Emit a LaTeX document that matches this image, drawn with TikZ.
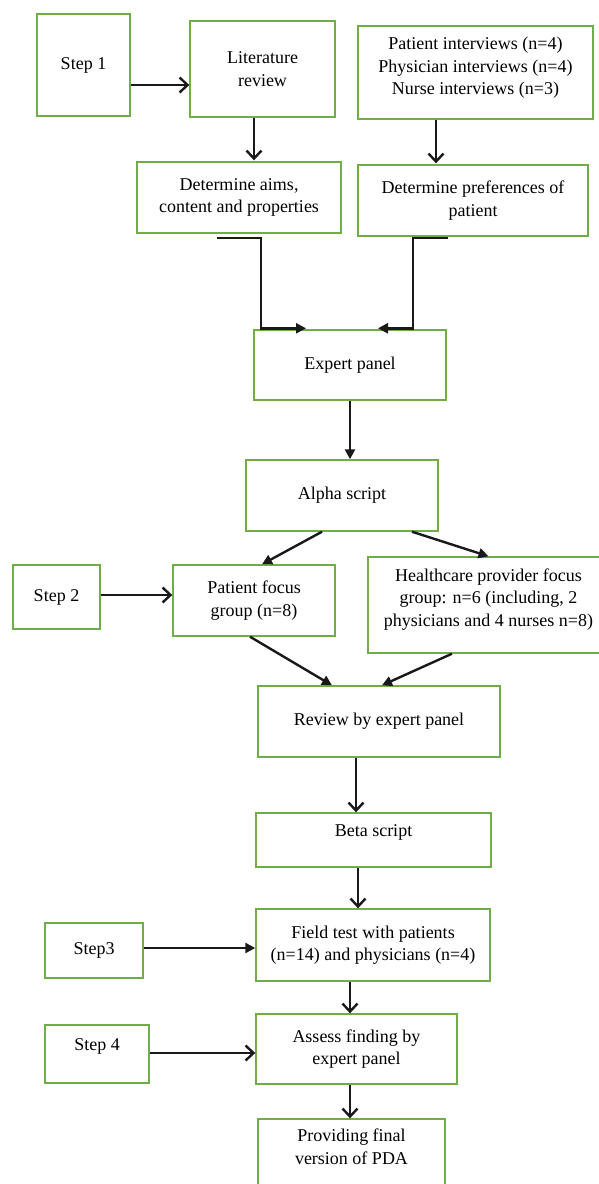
\documentclass[tikz,border=0pt]{standalone}
\usepackage{fontspec}
\setmainfont{Liberation Serif}
\usetikzlibrary{arrows.meta}
\definecolor{boxgreen}{RGB}{112,173,71}
\newcommand\upby[2]{\raisebox{#1}[\height][\depth]{#2}}
\begin{document}
\begin{tikzpicture}[x=1pt,y=-1pt,
  box/.style={draw=boxgreen, line width=1.4pt, align=center, inner sep=0pt,
    font=\fontsize{18}{22.5}\selectfont, text=black},
  openarr/.style={draw=black!90, line width=2.4pt, -{Straight Barb[length=8pt,width=15pt]}},
  fillarr/.style={draw=black!90, line width=2.4pt, -{Triangle[length=10pt,width=10pt]}}]
\useasboundingbox (0,0) rectangle (599,1184);

\node[box, minimum width=93pt, minimum height=102pt] (step1) at (83.5,65) {Step 1};
\node[box, minimum width=145pt, minimum height=96pt] (lit) at (262.5,69) {Literature\\review};
\node[box, minimum width=235pt, minimum height=93pt] (pi) at (475.5,72.5)
  {\upby{5pt}{\begin{tabular}{@{}c@{}}Patient interviews (n=4)\\Physician interviews (n=4)\\Nurse interviews (n=3)\end{tabular}}};
\node[box, minimum width=204pt, minimum height=71pt] (aims) at (239,197.5) {Determine aims,\\content and properties};
\node[box, minimum width=230pt, minimum height=71pt] (pref) at (473,200.5) {Determine preferences of\\patient};
\node[box, minimum width=192pt, minimum height=70pt] (expert) at (350,365) {Expert panel};
\node[box, minimum width=192pt, minimum height=71pt] (alpha) at (342,495.5) {Alpha script};
\node[box, minimum width=87pt, minimum height=64pt] (step2) at (56.5,597) {Step 2};
\node[box, minimum width=162pt, minimum height=71pt] (pf) at (254,600.5) {Patient focus\\group (n=8)};
\node[box, minimum width=241pt, minimum height=96pt] (hc) at (488.5,605)
  {\upby{6pt}{\begin{tabular}{@{}c@{}}Healthcare provider focus\\group: n=6 (including, 2\\physicians and 4 nurses n=8)\end{tabular}}};
\node[box, minimum width=242pt, minimum height=71pt] (review) at (379,721.5) {Review by expert panel};
\node[box, minimum width=235pt, minimum height=54pt] (beta) at (373.5,840) {\upby{8pt}{Beta script}};
\node[box, minimum width=234pt, minimum height=72pt] (field) at (373,945) {Field test with patients\\(n=14) and physicians (n=4)};
\node[box, minimum width=98pt, minimum height=55pt] (step3) at (94,950.5) {Step3};
\node[box, minimum width=201pt, minimum height=70pt] (assess) at (356.5,1049) {Assess finding by\\expert panel};
\node[box, minimum width=104pt, minimum height=58pt] (step4) at (97,1054) {\upby{8pt}{Step 4}};
\node[box, minimum width=187pt, minimum height=75pt] (pda) at (351.5,1156.5)
  {\upby{8pt}{\begin{tabular}{@{}c@{}}Providing final\\version of PDA\end{tabular}}};

\draw[openarr] ([yshift=-20pt]step1.east) -- ([yshift=-16pt]lit.west);
\draw[openarr] ([xshift=-8.5pt]lit.south) -- ([xshift=15pt,yshift=1pt]aims.north);
\draw[openarr] ([xshift=-39.5pt]pi.south) -- ([xshift=-37pt,yshift=1pt]pref.north);
\draw[fillarr] ([xshift=-22pt,yshift=-4pt]aims.south) -- ++(44,0) |- ([xshift=-44pt,yshift=1pt]expert.north);
\draw[fillarr] ([xshift=-25pt,yshift=-1pt]pref.south) -- ++(-35,0) |- ([xshift=28pt,yshift=1pt]expert.north);
\draw[fillarr] (expert.south) -- ([xshift=8pt]alpha.north);
\draw[fillarr] ([xshift=-20pt]alpha.south) -- ([xshift=8pt]pf.north);
\draw[fillarr] ([xshift=70pt]alpha.south) -- (hc.north);
\draw[openarr] ([yshift=2pt]step2.east) -- ([yshift=5.5pt]pf.west);
\draw[fillarr] ([xshift=-4pt]pf.south) -- ([xshift=-47pt]review.north);
\draw[fillarr] ([xshift=-36.5pt]hc.south) -- ([xshift=3pt]review.north);
\draw[openarr] ([xshift=-23pt]review.south) -- ([xshift=-17.5pt]beta.north);
\draw[openarr] ([xshift=-15.5pt]beta.south) -- ([xshift=-15pt]field.north);
\draw[fillarr] ([yshift=2.5pt]step3.east) -- ([yshift=-3pt]field.west);
\draw[openarr] ([xshift=-23pt]field.south) -- ([xshift=-6.5pt]assess.north);
\draw[openarr] ([yshift=1pt]step4.east) -- ([yshift=-4pt]assess.west);
\draw[openarr] ([xshift=-6.5pt]assess.south) -- ([xshift=-1.5pt]pda.north);
\end{tikzpicture}
\end{document}
